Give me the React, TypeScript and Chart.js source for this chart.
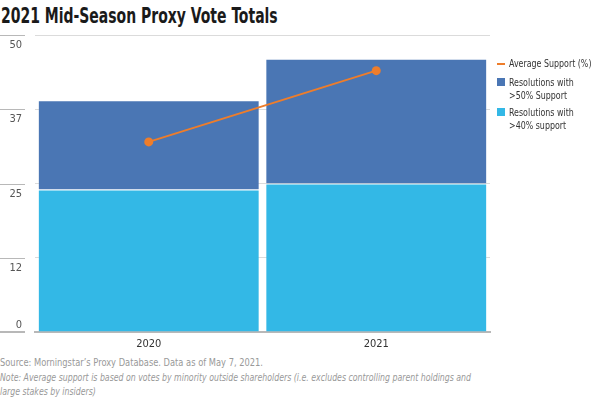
import React, { useEffect, useRef } from "react";
import { Chart, registerables } from "chart.js";

Chart.register(...registerables);

const categories = ["2020", "2021"];
const over40 = [24, 25];
const over50 = [15, 21];
const avgSupport = [32, 44];
const yTickLabels = ["0", "12", "25", "37", "50"];
const seriesNames = ["Average Support (%)", "Resolutions with\n>50% Support", "Resolutions with\n>40% support"];
const seriesColors = ["#EE7D2B", "#4A76B4", "#33B8E6"];

const FONT = '"Liberation Sans Narrow", "DejaVu Sans Condensed", "Roboto Condensed", "Arial Narrow", sans-serif';

const leftTicks = {
  id: "leftTicks",
  afterDraw(chart: any) {
    const y = chart.scales.y;
    const ctx = chart.ctx;
    ctx.save();
    ctx.strokeStyle = "#b8b8b8";
    ctx.fillStyle = "#555";
    ctx.font = `11px ${FONT}`;
    ctx.textAlign = "right";
    ctx.textBaseline = "middle";
    y.ticks.forEach((t: any, i: number) => {
      const py = Math.round(y.getPixelForValue(t.value)) + (i === 0 ? 0 : 0.5);
      ctx.lineWidth = i === 0 ? 2 : 1;
      ctx.beginPath();
      ctx.moveTo(0, py);
      ctx.lineTo(25, py);
      ctx.stroke();
      ctx.fillText(yTickLabels[i], 22, i === 0 ? py - 7 : py + 10);
    });
    ctx.restore();
  },
};

export default function App() {
  const ref = useRef<HTMLCanvasElement>(null);
  useEffect(() => {
    if (!ref.current) return;
    const chart = new Chart(ref.current, {
      type: "bar",
      data: {
        labels: categories,
        datasets: [
          {
            type: "line",
            label: seriesNames[0],
            data: avgSupport,
            borderColor: seriesColors[0],
            backgroundColor: seriesColors[0],
            borderWidth: 2,
            pointRadius: 4.5,
            pointHoverRadius: 4.5,
            pointBorderWidth: 0,
            stack: "line",
            order: 0,
          } as any,
          {
            type: "bar",
            label: seriesNames[2],
            data: over40,
            backgroundColor: seriesColors[2],
            borderColor: "rgba(255,255,255,0.12)",
            borderWidth: 1,
            stack: "bars",
            order: 1,
            barPercentage: 0.975,
            categoryPercentage: 1,
          },
          {
            type: "bar",
            label: seriesNames[1],
            data: over50,
            backgroundColor: seriesColors[1],
            borderColor: "rgba(255,255,255,0.12)",
            borderWidth: 1,
            stack: "bars",
            order: 1,
            barPercentage: 0.975,
            categoryPercentage: 1,
          },
        ],
      },
      options: {
        animation: false,
        responsive: true,
        maintainAspectRatio: false,
        layout: { padding: { top: 35, right: 110, left: 0, bottom: 0 } },
        plugins: { legend: { display: false }, tooltip: { enabled: false } },
        scales: {
          x: {
            stacked: true,
            grid: { display: false, drawTicks: false },
            border: { display: true, color: "#b8b8b8", width: 2 },
            ticks: { color: "#333", font: { family: FONT, size: 11 }, padding: 6 },
            afterFit: (s: any) => { s.height = 23; },
          },
          y: {
            stacked: true,
            min: 0,
            max: 50,
            z: 1,
            grid: { color: "rgba(0,0,0,0.14)", drawTicks: false },
            border: { display: false },
            ticks: { stepSize: 12.5, display: false },
            afterFit: (s: any) => { s.width = 35; },
          },
        },
      },
      plugins: [leftTicks],
    });
    return () => chart.destroy();
  }, []);

  const legendItems = [
    { text: seriesNames[0], color: seriesColors[0], line: true },
    { text: seriesNames[1], color: seriesColors[1], line: false },
    { text: seriesNames[2], color: seriesColors[2], line: false },
  ];

  const squeeze = (s: number): React.CSSProperties => ({
    display: "inline-block",
    transform: `scaleX(${s})`,
    transformOrigin: "left center",
    whiteSpace: "pre",
  });

  return (
    <div style={{ position: "fixed", left: 0, top: 0, width: 600, height: 397, background: "#fff", fontFamily: FONT, overflow: "hidden" }}>
      <div style={{ position: "absolute", left: 1, top: 4, fontSize: 21, fontWeight: "bold", color: "#1a1a1a", whiteSpace: "nowrap" }}>
        <span style={squeeze(0.74)}>2021 Mid-Season Proxy Vote Totals</span>
      </div>
      <div style={{ position: "absolute", left: 0, top: 0, width: 600, height: 355 }}>
        <canvas ref={ref} />
      </div>
      <div style={{ position: "absolute", left: 497, top: 57, width: 103, fontSize: 11, color: "#333", lineHeight: "13px" }}>
        {legendItems.map((it, i) => (
          <div key={i} style={{ position: "relative", paddingLeft: 12, marginBottom: i === 0 ? 6 : 4 }}>
            {it.line ? (
              <span style={{ position: "absolute", left: 0, top: 6, width: 8, height: 2, background: it.color }} />
            ) : (
              <span style={{ position: "absolute", left: 0, top: 2, width: 8, height: 8, background: it.color }} />
            )}
            <span style={squeeze(0.8)}>{it.text}</span>
          </div>
        ))}
      </div>
      <div style={{ position: "absolute", left: 0, top: 356, fontSize: 11, color: "#999", lineHeight: "14.5px", whiteSpace: "nowrap" }}>
        <div><span style={squeeze(0.84)}>Source: Morningstar’s Proxy Database. Data as of May 7, 2021.</span></div>
        <div style={{ fontStyle: "italic" }}>
          <span style={squeeze(0.79)}>
            {"Note: Average support is based on votes by minority outside shareholders (i.e. excludes controlling parent holdings and\nlarge stakes by insiders)"}
          </span>
        </div>
      </div>
    </div>
  );
}
